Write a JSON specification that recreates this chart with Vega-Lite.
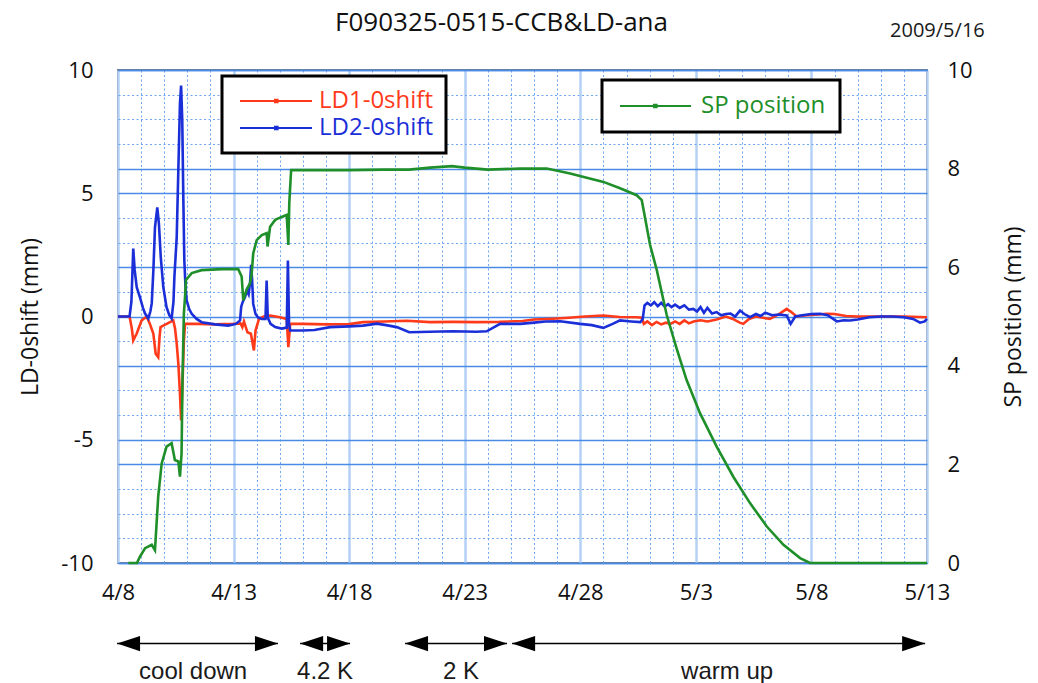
{
"$schema": "https://vega.github.io/schema/vega-lite/v6.json",
"autosize": "none",
"width": 809,
"height": 493,
"padding": {"left": 118, "top": 70, "right": 111, "bottom": 120},
"background": "white",
"title": {"text": "F090325-0515-CCB&LD-ana", "font": "Open Sans", "fontSize": 26, "fontWeight": "normal", "color": "#111111", "anchor": "middle", "frame": "group", "dx": -21, "offset": 18, "dy": 33},
"config": {
  "view": {"stroke": "#7a7a7a", "strokeWidth": 2},
  "axis": {"labelFont": "Open Sans", "labelFontSize": 22, "labelColor": "#111111", "titleFont": "Open Sans", "titleFontSize": 23, "titleFontWeight": "normal", "titleColor": "#111111", "domain": false, "ticks": false, "labelOverlap": false, "labelFlush": false},
  "legend": {"strokeWidth": 3}
},
"datasets": {
"ld": [
{"day":8,"value":0,"series":"LD1-0shift"},{"day":8.5,"value":0,"series":"LD1-0shift"},{"day":8.6,"value":-0.5,"series":"LD1-0shift"},{"day":8.66,"value":-0.97,"series":"LD1-0shift"},{"day":8.75,"value":-0.8,"series":"LD1-0shift"},{"day":8.81,"value":-0.69,"series":"LD1-0shift"},{"day":9.02,"value":-0.16,"series":"LD1-0shift"},{"day":9.24,"value":0,"series":"LD1-0shift"},{"day":9.38,"value":-0.3,"series":"LD1-0shift"},{"day":9.53,"value":-0.7,"series":"LD1-0shift"},{"day":9.63,"value":-1.51,"series":"LD1-0shift"},{"day":9.74,"value":-1.65,"series":"LD1-0shift"},{"day":9.8,"value":-0.8,"series":"LD1-0shift"},{"day":9.84,"value":-0.43,"series":"LD1-0shift"},{"day":9.96,"value":-0.37,"series":"LD1-0shift"},{"day":10.25,"value":-0.23,"series":"LD1-0shift"},{"day":10.39,"value":-0.16,"series":"LD1-0shift"},{"day":10.47,"value":-0.5,"series":"LD1-0shift"},{"day":10.54,"value":-1.1,"series":"LD1-0shift"},{"day":10.61,"value":-1.9,"series":"LD1-0shift"},{"day":10.68,"value":-3.1,"series":"LD1-0shift"},{"day":10.73,"value":-4.22,"series":"LD1-0shift"},{"day":10.78,"value":-3.0,"series":"LD1-0shift"},{"day":10.85,"value":-1.0,"series":"LD1-0shift"},{"day":10.9,"value":-0.3,"series":"LD1-0shift"},{"day":11.5,"value":-0.3,"series":"LD1-0shift"},{"day":12.2,"value":-0.32,"series":"LD1-0shift"},{"day":13.0,"value":-0.3,"series":"LD1-0shift"},{"day":13.3,"value":-0.28,"series":"LD1-0shift"},{"day":13.38,"value":-0.43,"series":"LD1-0shift"},{"day":13.45,"value":-0.2,"series":"LD1-0shift"},{"day":13.6,"value":-0.64,"series":"LD1-0shift"},{"day":13.75,"value":-0.7,"series":"LD1-0shift"},{"day":13.88,"value":-1.38,"series":"LD1-0shift"},{"day":13.95,"value":-0.57,"series":"LD1-0shift"},{"day":14.1,"value":-0.1,"series":"LD1-0shift"},{"day":14.3,"value":0.0,"series":"LD1-0shift"},{"day":14.58,"value":0.04,"series":"LD1-0shift"},{"day":15.0,"value":-0.03,"series":"LD1-0shift"},{"day":15.3,"value":-0.1,"series":"LD1-0shift"},{"day":15.37,"value":-1.24,"series":"LD1-0shift"},{"day":15.45,"value":-0.3,"series":"LD1-0shift"},{"day":16.0,"value":-0.3,"series":"LD1-0shift"},{"day":17.0,"value":-0.32,"series":"LD1-0shift"},{"day":18.0,"value":-0.31,"series":"LD1-0shift"},{"day":18.6,"value":-0.23,"series":"LD1-0shift"},{"day":19.5,"value":-0.2,"series":"LD1-0shift"},{"day":20.5,"value":-0.17,"series":"LD1-0shift"},{"day":21.5,"value":-0.23,"series":"LD1-0shift"},{"day":22.5,"value":-0.22,"series":"LD1-0shift"},{"day":23.5,"value":-0.23,"series":"LD1-0shift"},{"day":24.5,"value":-0.22,"series":"LD1-0shift"},{"day":25.5,"value":-0.18,"series":"LD1-0shift"},{"day":26.0,"value":-0.12,"series":"LD1-0shift"},{"day":26.8,"value":-0.09,"series":"LD1-0shift"},{"day":27.5,"value":-0.05,"series":"LD1-0shift"},{"day":28.2,"value":0.0,"series":"LD1-0shift"},{"day":29.0,"value":0.04,"series":"LD1-0shift"},{"day":29.7,"value":-0.02,"series":"LD1-0shift"},{"day":30.45,"value":-0.03,"series":"LD1-0shift"},{"day":30.66,"value":-0.05,"series":"LD1-0shift"},{"day":30.75,"value":-0.3,"series":"LD1-0shift"},{"day":30.9,"value":-0.2,"series":"LD1-0shift"},{"day":31.1,"value":-0.35,"series":"LD1-0shift"},{"day":31.3,"value":-0.22,"series":"LD1-0shift"},{"day":31.5,"value":-0.32,"series":"LD1-0shift"},{"day":31.7,"value":-0.25,"series":"LD1-0shift"},{"day":31.9,"value":-0.3,"series":"LD1-0shift"},{"day":32.1,"value":-0.2,"series":"LD1-0shift"},{"day":32.3,"value":-0.3,"series":"LD1-0shift"},{"day":32.5,"value":-0.16,"series":"LD1-0shift"},{"day":32.7,"value":-0.28,"series":"LD1-0shift"},{"day":32.9,"value":-0.2,"series":"LD1-0shift"},{"day":33.2,"value":-0.15,"series":"LD1-0shift"},{"day":33.5,"value":-0.2,"series":"LD1-0shift"},{"day":33.9,"value":-0.12,"series":"LD1-0shift"},{"day":34.3,"value":0.0,"series":"LD1-0shift"},{"day":34.6,"value":-0.1,"series":"LD1-0shift"},{"day":34.9,"value":-0.25,"series":"LD1-0shift"},{"day":35.05,"value":-0.3,"series":"LD1-0shift"},{"day":35.3,"value":-0.1,"series":"LD1-0shift"},{"day":35.6,"value":0.0,"series":"LD1-0shift"},{"day":35.9,"value":-0.05,"series":"LD1-0shift"},{"day":36.2,"value":-0.1,"series":"LD1-0shift"},{"day":36.6,"value":0.1,"series":"LD1-0shift"},{"day":36.93,"value":0.31,"series":"LD1-0shift"},{"day":37.1,"value":0.2,"series":"LD1-0shift"},{"day":37.36,"value":0.0,"series":"LD1-0shift"},{"day":37.8,"value":0.05,"series":"LD1-0shift"},{"day":38.3,"value":0.08,"series":"LD1-0shift"},{"day":38.66,"value":0.11,"series":"LD1-0shift"},{"day":39.0,"value":0.1,"series":"LD1-0shift"},{"day":39.5,"value":0.02,"series":"LD1-0shift"},{"day":40.0,"value":0.0,"series":"LD1-0shift"},{"day":41.0,"value":0.0,"series":"LD1-0shift"},{"day":42.0,"value":0.0,"series":"LD1-0shift"},{"day":43.0,"value":-0.03,"series":"LD1-0shift"},
{"day":8,"value":0,"series":"LD2-0shift"},{"day":8.5,"value":0,"series":"LD2-0shift"},{"day":8.58,"value":0.6,"series":"LD2-0shift"},{"day":8.66,"value":2.76,"series":"LD2-0shift"},{"day":8.72,"value":1.9,"series":"LD2-0shift"},{"day":8.81,"value":1.19,"series":"LD2-0shift"},{"day":8.95,"value":0.78,"series":"LD2-0shift"},{"day":9.08,"value":0.35,"series":"LD2-0shift"},{"day":9.17,"value":0.12,"series":"LD2-0shift"},{"day":9.31,"value":-0.08,"series":"LD2-0shift"},{"day":9.4,"value":0.2,"series":"LD2-0shift"},{"day":9.46,"value":0.53,"series":"LD2-0shift"},{"day":9.53,"value":1.87,"series":"LD2-0shift"},{"day":9.6,"value":3.62,"series":"LD2-0shift"},{"day":9.7,"value":4.43,"series":"LD2-0shift"},{"day":9.77,"value":3.77,"series":"LD2-0shift"},{"day":9.85,"value":2.41,"series":"LD2-0shift"},{"day":9.96,"value":1.19,"series":"LD2-0shift"},{"day":10.1,"value":0.38,"series":"LD2-0shift"},{"day":10.22,"value":0.05,"series":"LD2-0shift"},{"day":10.32,"value":-0.08,"series":"LD2-0shift"},{"day":10.4,"value":0.6,"series":"LD2-0shift"},{"day":10.44,"value":1.6,"series":"LD2-0shift"},{"day":10.54,"value":3.22,"series":"LD2-0shift"},{"day":10.61,"value":5.92,"series":"LD2-0shift"},{"day":10.68,"value":8.63,"series":"LD2-0shift"},{"day":10.73,"value":9.37,"series":"LD2-0shift"},{"day":10.78,"value":7.95,"series":"LD2-0shift"},{"day":10.83,"value":4.57,"series":"LD2-0shift"},{"day":10.87,"value":2.27,"series":"LD2-0shift"},{"day":10.92,"value":1.2,"series":"LD2-0shift"},{"day":10.97,"value":0.65,"series":"LD2-0shift"},{"day":11.08,"value":0.3,"series":"LD2-0shift"},{"day":11.19,"value":0.11,"series":"LD2-0shift"},{"day":11.4,"value":-0.1,"series":"LD2-0shift"},{"day":11.62,"value":-0.23,"series":"LD2-0shift"},{"day":12.2,"value":-0.32,"series":"LD2-0shift"},{"day":12.77,"value":-0.37,"series":"LD2-0shift"},{"day":13.1,"value":-0.3,"series":"LD2-0shift"},{"day":13.28,"value":-0.16,"series":"LD2-0shift"},{"day":13.33,"value":0.4,"series":"LD2-0shift"},{"day":13.4,"value":0.6,"series":"LD2-0shift"},{"day":13.5,"value":0.8,"series":"LD2-0shift"},{"day":13.57,"value":1.05,"series":"LD2-0shift"},{"day":13.65,"value":0.9,"series":"LD2-0shift"},{"day":13.71,"value":1.33,"series":"LD2-0shift"},{"day":13.76,"value":2.1,"series":"LD2-0shift"},{"day":13.8,"value":1.5,"series":"LD2-0shift"},{"day":13.85,"value":0.51,"series":"LD2-0shift"},{"day":13.95,"value":0.1,"series":"LD2-0shift"},{"day":14.05,"value":-0.03,"series":"LD2-0shift"},{"day":14.22,"value":-0.1,"series":"LD2-0shift"},{"day":14.38,"value":-0.1,"series":"LD2-0shift"},{"day":14.43,"value":1.46,"series":"LD2-0shift"},{"day":14.48,"value":-0.05,"series":"LD2-0shift"},{"day":14.6,"value":-0.3,"series":"LD2-0shift"},{"day":14.8,"value":-0.43,"series":"LD2-0shift"},{"day":15.08,"value":-0.49,"series":"LD2-0shift"},{"day":15.3,"value":-0.45,"series":"LD2-0shift"},{"day":15.35,"value":2.27,"series":"LD2-0shift"},{"day":15.4,"value":-0.3,"series":"LD2-0shift"},{"day":15.45,"value":-0.57,"series":"LD2-0shift"},{"day":16.0,"value":-0.57,"series":"LD2-0shift"},{"day":16.5,"value":-0.55,"series":"LD2-0shift"},{"day":17.17,"value":-0.43,"series":"LD2-0shift"},{"day":18.0,"value":-0.4,"series":"LD2-0shift"},{"day":18.6,"value":-0.37,"series":"LD2-0shift"},{"day":19.2,"value":-0.29,"series":"LD2-0shift"},{"day":19.6,"value":-0.35,"series":"LD2-0shift"},{"day":20.06,"value":-0.43,"series":"LD2-0shift"},{"day":20.6,"value":-0.64,"series":"LD2-0shift"},{"day":21.5,"value":-0.62,"series":"LD2-0shift"},{"day":22.5,"value":-0.6,"series":"LD2-0shift"},{"day":23.5,"value":-0.62,"series":"LD2-0shift"},{"day":23.95,"value":-0.6,"series":"LD2-0shift"},{"day":24.53,"value":-0.3,"series":"LD2-0shift"},{"day":25.4,"value":-0.3,"series":"LD2-0shift"},{"day":26.0,"value":-0.25,"series":"LD2-0shift"},{"day":26.5,"value":-0.2,"series":"LD2-0shift"},{"day":27.13,"value":-0.19,"series":"LD2-0shift"},{"day":27.99,"value":-0.3,"series":"LD2-0shift"},{"day":28.5,"value":-0.35,"series":"LD2-0shift"},{"day":29.0,"value":-0.46,"series":"LD2-0shift"},{"day":29.4,"value":-0.3,"series":"LD2-0shift"},{"day":29.72,"value":-0.16,"series":"LD2-0shift"},{"day":30.2,"value":-0.2,"series":"LD2-0shift"},{"day":30.6,"value":-0.23,"series":"LD2-0shift"},{"day":30.7,"value":-0.1,"series":"LD2-0shift"},{"day":30.78,"value":0.45,"series":"LD2-0shift"},{"day":30.9,"value":0.55,"series":"LD2-0shift"},{"day":31.05,"value":0.45,"series":"LD2-0shift"},{"day":31.2,"value":0.58,"series":"LD2-0shift"},{"day":31.35,"value":0.42,"series":"LD2-0shift"},{"day":31.5,"value":0.55,"series":"LD2-0shift"},{"day":31.65,"value":0.4,"series":"LD2-0shift"},{"day":31.8,"value":0.5,"series":"LD2-0shift"},{"day":31.95,"value":0.38,"series":"LD2-0shift"},{"day":32.1,"value":0.48,"series":"LD2-0shift"},{"day":32.3,"value":0.35,"series":"LD2-0shift"},{"day":32.5,"value":0.45,"series":"LD2-0shift"},{"day":32.7,"value":0.28,"series":"LD2-0shift"},{"day":32.89,"value":0.31,"series":"LD2-0shift"},{"day":33.05,"value":0.2,"series":"LD2-0shift"},{"day":33.2,"value":0.38,"series":"LD2-0shift"},{"day":33.35,"value":0.15,"series":"LD2-0shift"},{"day":33.5,"value":0.35,"series":"LD2-0shift"},{"day":33.7,"value":0.12,"series":"LD2-0shift"},{"day":33.9,"value":0.18,"series":"LD2-0shift"},{"day":34.1,"value":0.05,"series":"LD2-0shift"},{"day":34.3,"value":0.1,"series":"LD2-0shift"},{"day":34.5,"value":0.12,"series":"LD2-0shift"},{"day":34.7,"value":0.0,"series":"LD2-0shift"},{"day":34.91,"value":0.24,"series":"LD2-0shift"},{"day":35.1,"value":0.1,"series":"LD2-0shift"},{"day":35.35,"value":-0.03,"series":"LD2-0shift"},{"day":35.6,"value":0.1,"series":"LD2-0shift"},{"day":35.8,"value":0.02,"series":"LD2-0shift"},{"day":36.0,"value":0.15,"series":"LD2-0shift"},{"day":36.3,"value":0.05,"series":"LD2-0shift"},{"day":36.6,"value":0.08,"series":"LD2-0shift"},{"day":36.93,"value":0.04,"series":"LD2-0shift"},{"day":37.1,"value":-0.3,"series":"LD2-0shift"},{"day":37.3,"value":0.0,"series":"LD2-0shift"},{"day":37.6,"value":0.05,"series":"LD2-0shift"},{"day":38.0,"value":0.1,"series":"LD2-0shift"},{"day":38.38,"value":0.11,"series":"LD2-0shift"},{"day":38.7,"value":0.05,"series":"LD2-0shift"},{"day":39.1,"value":-0.2,"series":"LD2-0shift"},{"day":39.4,"value":-0.15,"series":"LD2-0shift"},{"day":39.67,"value":-0.16,"series":"LD2-0shift"},{"day":40.0,"value":-0.12,"series":"LD2-0shift"},{"day":40.5,"value":-0.03,"series":"LD2-0shift"},{"day":41.0,"value":0.0,"series":"LD2-0shift"},{"day":41.5,"value":0.0,"series":"LD2-0shift"},{"day":42.0,"value":-0.03,"series":"LD2-0shift"},{"day":42.4,"value":-0.1,"series":"LD2-0shift"},{"day":42.7,"value":-0.25,"series":"LD2-0shift"},{"day":42.9,"value":-0.2,"series":"LD2-0shift"},{"day":43.0,"value":-0.1,"series":"LD2-0shift"}
],
"sp": [
{"day":8.45,"position":0},{"day":8.82,"position":0},{"day":8.95,"position":0.13},{"day":9.17,"position":0.3},{"day":9.46,"position":0.37},{"day":9.6,"position":0.26},{"day":9.74,"position":1.35},{"day":9.89,"position":2.02},{"day":10.1,"position":2.36},{"day":10.32,"position":2.43},{"day":10.46,"position":2.09},{"day":10.61,"position":2.06},{"day":10.68,"position":1.75},{"day":10.75,"position":2.22},{"day":10.79,"position":3.71},{"day":10.85,"position":5.06},{"day":10.9,"position":5.4},{"day":10.94,"position":5.74},{"day":11.19,"position":5.88},{"day":11.62,"position":5.94},{"day":12.5,"position":5.96},{"day":13.2,"position":5.96},{"day":13.35,"position":5.81},{"day":13.42,"position":5.33},{"day":13.57,"position":5.55},{"day":13.71,"position":5.67},{"day":13.78,"position":5.84},{"day":13.85,"position":6.28},{"day":14.0,"position":6.55},{"day":14.22,"position":6.65},{"day":14.43,"position":6.69},{"day":14.47,"position":6.42},{"day":14.58,"position":6.82},{"day":14.8,"position":6.96},{"day":15.08,"position":7.02},{"day":15.3,"position":7.06},{"day":15.37,"position":6.45},{"day":15.41,"position":7.3},{"day":15.49,"position":7.97},{"day":16.5,"position":7.97},{"day":18.0,"position":7.97},{"day":19.5,"position":7.98},{"day":20.6,"position":7.98},{"day":21.5,"position":8.02},{"day":22.45,"position":8.05},{"day":23.0,"position":8.02},{"day":24.0,"position":7.98},{"day":25.4,"position":8.0},{"day":26.55,"position":8.0},{"day":27.56,"position":7.9},{"day":29.0,"position":7.73},{"day":29.72,"position":7.6},{"day":30.44,"position":7.46},{"day":30.66,"position":7.36},{"day":31.02,"position":6.45},{"day":31.31,"position":5.94},{"day":31.74,"position":5.03},{"day":32.17,"position":4.35},{"day":32.6,"position":3.71},{"day":33.18,"position":3.04},{"day":33.9,"position":2.36},{"day":34.62,"position":1.75},{"day":35.35,"position":1.21},{"day":36.07,"position":0.74},{"day":36.79,"position":0.37},{"day":37.51,"position":0.1},{"day":37.94,"position":0},{"day":43,"position":0}
],
"phases": [
{"phase":"cool down","start":7.96,"end":14.92,"label_day":11.25},
{"phase":"4.2 K","start":15.88,"end":18.04,"label_day":16.96},
{"phase":"2 K","start":20.42,"end":24.83,"label_day":22.84},
{"phase":"warm up","start":25.05,"end":42.92,"label_day":34.35}
]
},
"layer": [
  {"data": {"name": "ld"},
   "mark": {"type": "line", "strokeWidth": 2.6},
   "encoding": {
     "x": {"field": "day", "type": "quantitative", "scale": {"domain": [8, 43], "nice": false, "zero": false},
       "axis": {"title": null, "orient": "bottom", "labels": false, "grid": true,
         "values": [8,9,10,11,12,13,14,15,16,17,18,19,20,21,22,23,24,25,26,27,28,29,30,31,32,33,34,35,36,37,38,39,40,41,42,43],
         "gridColor": "#6ea6f2", "gridDash": [2, 2.5], "gridWidth": 1}},
     "y": {"field": "value", "type": "quantitative", "scale": {"domain": [-10, 10], "nice": false, "zero": false},
       "axis": {"title": "LD-0shift (mm)", "values": [-10,-9,-8,-7,-6,-5,-4,-3,-2,-1,0,1,2,3,4,5,6,7,8,9,10],
         "labelExpr": "datum.value % 5 === 0 ? '' + datum.value : ''",
         "labelPadding": 25, "labelOverlap": false, "labelFlush": false, "grid": true,
         "gridColor": {"condition": {"test": "datum.value % 5 === 0", "value": "#4a8be8"}, "value": "#6ea6f2"},
         "gridDash": {"condition": {"test": "datum.value % 5 === 0", "value": [1, 0]}, "value": [2, 2.5]},
         "gridWidth": {"condition": {"test": "datum.value % 5 === 0", "value": 1.3}, "value": 1},
         "titleX": -88, "titleY": 246.5, "titleAngle": -90, "titleAlign": "center", "titleBaseline": "middle"}},
     "color": {"field": "series", "type": "nominal",
       "scale": {"domain": ["LD1-0shift", "LD2-0shift"], "range": ["#ff3a1a", "#1b2fd8"]},
       "legend": {"title": null, "orient": "none", "legendX": 104, "legendY": 6, "padding": 13, "rowPadding": 3,
         "symbolType": "M-0.7,0L6.5,0M2.8,-0.13h0.26v0.26h-0.26z", "symbolSize": 400, "symbolStrokeWidth": 2,
         "labelFont": "Open Sans", "labelFontSize": 24, "labelOffset": 60, "labelLimit": 300,
         "labelColor": {"expr": "datum.value === 'LD1-0shift' ? '#ff3a1a' : '#1b2fd8'"},
         "strokeColor": "black", "fillColor": "white"}}
   }},
  {"data": {"name": "sp"},
   "mark": {"type": "line", "strokeWidth": 2.6},
   "encoding": {
     "x": {"field": "day", "type": "quantitative", "scale": {"domain": [8, 43], "nice": false, "zero": false},
       "axis": {"title": null, "orient": "bottom", "values": [8, 13, 18, 23, 28, 33, 38, 43],
         "labelExpr": "datum.value <= 30 ? '4/' + datum.value : '5/' + (datum.value - 30)",
         "labelPadding": 19, "labelOverlap": false, "labelFlush": false,
         "grid": true, "gridColor": "#b5d0f5", "gridWidth": 2.5}},
     "y": {"field": "position", "type": "quantitative", "scale": {"domain": [0, 10], "nice": false, "zero": false},
       "axis": {"orient": "right", "title": "SP position (mm)", "values": [0, 2, 4, 6, 8, 10],
         "labelExpr": "'' + datum.value", "labelPadding": 20, "labelOverlap": false, "labelFlush": false,
         "grid": true, "gridColor": "#4a8be8", "gridWidth": 1.3,
         "titleX": 86, "titleY": 246.5, "titleAngle": -90, "titleAlign": "center", "titleBaseline": "middle"}},
     "color": {"datum": "SP position", "type": "nominal",
       "scale": {"domain": ["SP position"], "range": ["#1f8f2a"]},
       "legend": {"title": null, "orient": "none", "legendX": 484, "legendY": 10, "padding": 14,
         "symbolType": "M-0.8,0L6.3,0M2.6,-0.13h0.26v0.26h-0.26z", "symbolSize": 400, "symbolStrokeWidth": 2,
         "labelFont": "Open Sans", "labelFontSize": 24, "labelOffset": 61, "labelLimit": 300, "labelColor": "#1f8f2a",
         "strokeColor": "black", "fillColor": "white"}}
   }},
  {"data": {"name": "phases"},
   "mark": {"type": "rule", "color": "black", "strokeWidth": 1.5},
   "encoding": {
     "x": {"field": "start", "type": "quantitative", "scale": {"domain": [8, 43], "nice": false, "zero": false}, "axis": null},
     "x2": {"field": "end"},
     "y": {"datum": -13.27, "type": "quantitative", "scale": {"domain": [-10, 10], "nice": false, "zero": false}, "axis": null}}},
  {"data": {"name": "phases"},
   "mark": {"type": "point", "shape": "M0,0L1,-0.33L1,0.33Z", "size": 2116, "filled": true, "color": "black", "opacity": 1},
   "encoding": {
     "x": {"field": "start", "type": "quantitative", "scale": {"domain": [8, 43], "nice": false, "zero": false}, "axis": null},
     "y": {"datum": -13.27, "type": "quantitative", "scale": {"domain": [-10, 10], "nice": false, "zero": false}, "axis": null}}},
  {"data": {"name": "phases"},
   "mark": {"type": "point", "shape": "M0,0L-1,-0.33L-1,0.33Z", "size": 2116, "filled": true, "color": "black", "opacity": 1},
   "encoding": {
     "x": {"field": "end", "type": "quantitative", "scale": {"domain": [8, 43], "nice": false, "zero": false}, "axis": null},
     "y": {"datum": -13.27, "type": "quantitative", "scale": {"domain": [-10, 10], "nice": false, "zero": false}, "axis": null}}},
  {"data": {"name": "phases"},
   "mark": {"type": "text", "font": "Liberation Sans", "fontSize": 24, "color": "#1a1a1a", "baseline": "alphabetic", "align": "center"},
   "encoding": {
     "x": {"field": "label_day", "type": "quantitative", "scale": {"domain": [8, 43], "nice": false, "zero": false}, "axis": null},
     "y": {"datum": -14.69, "type": "quantitative", "scale": {"domain": [-10, 10], "nice": false, "zero": false}, "axis": null},
     "text": {"field": "phase"}}},
  {"data": {"values": [{"note": "2009/5/16"}]},
   "mark": {"type": "text", "font": "Open Sans", "fontSize": 20, "color": "#1a1a1a", "baseline": "middle", "align": "center"},
   "encoding": {
     "x": {"datum": 43.45, "type": "quantitative", "scale": {"domain": [8, 43], "nice": false, "zero": false}, "axis": null},
     "y": {"datum": 11.6, "type": "quantitative", "scale": {"domain": [-10, 10], "nice": false, "zero": false}, "axis": null},
     "text": {"field": "note"}}}
],
"resolve": {"scale": {"y": "independent", "color": "independent"}, "axis": {"x": "independent"}}
}
